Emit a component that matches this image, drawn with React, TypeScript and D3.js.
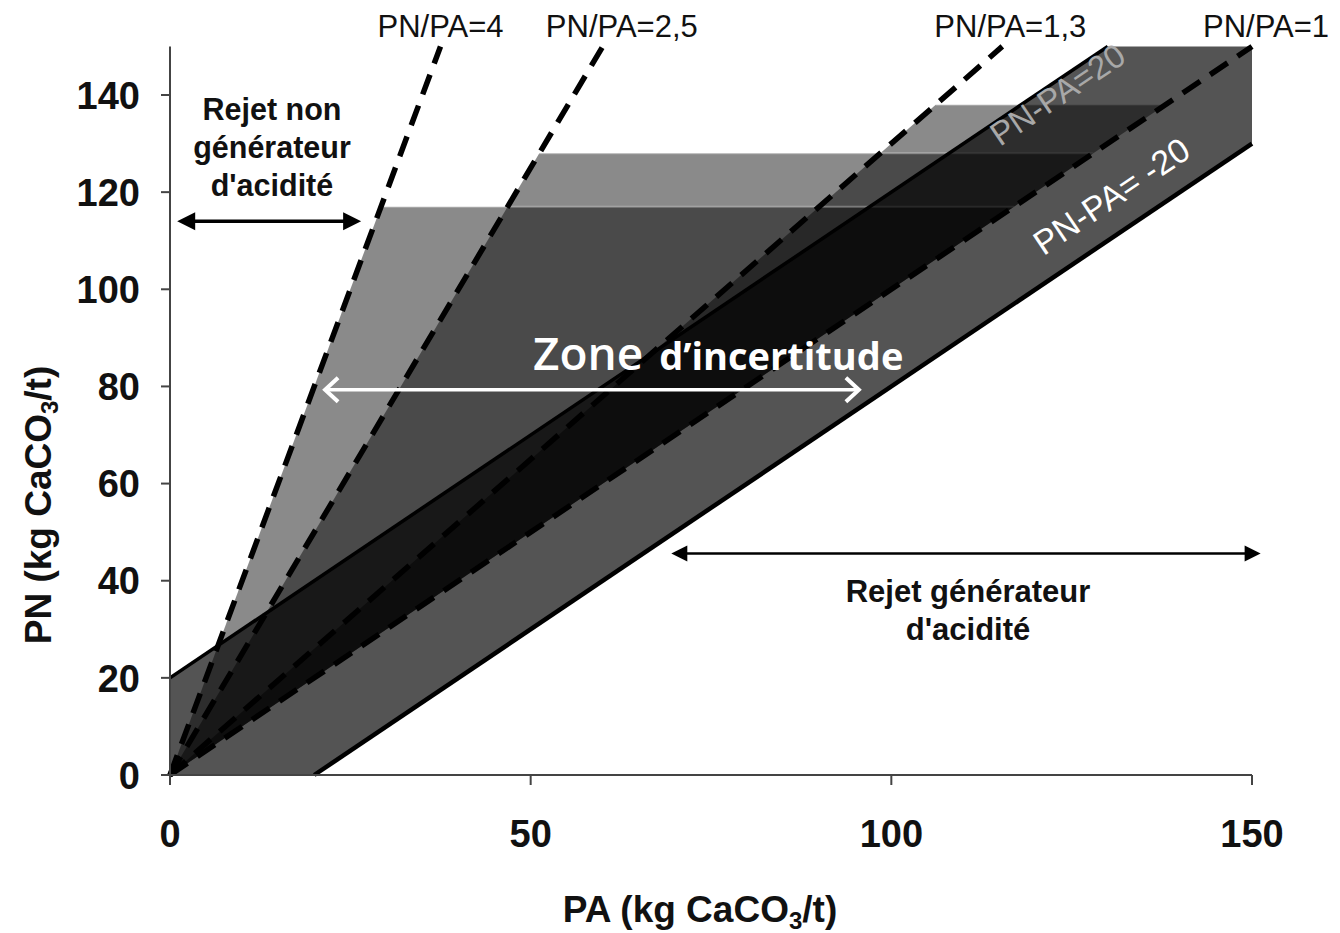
import React from 'react';
import * as d3 from 'd3';

// ---- data ----
const ratioValues = [4, 2.5, 1.3, 1];
const ratioLabels = ['PN/PA=4', 'PN/PA=2,5', 'PN/PA=1,3', 'PN/PA=1'];
const triangleRatios = [4, 2.5, 1.3];
const triangleTopsPN = [117, 128, 138];
const diffValues = [20, -20];
const diffLabels = ['PN-PA=20', 'PN-PA= -20'];
const xTicks = [0, 50, 100, 150];
const yTicks = [0, 20, 40, 60, 80, 100, 120, 140];
const axisMax = 150;

// annotation anchors (data units)
const leftArrow = { x1: 1, x2: 26.5, y: 114 };
const midArrow = { x1: 21.5, x2: 95.5, y: 79.3 };
const rightArrow = { x1: 69.5, x2: 151.2, y: 45.6 };

const W = 1340;
const H = 933;
const FONT = "'Liberation Sans', Arial, sans-serif";
const ZFONT = "'Open Sans', Lato, sans-serif";

export default function App() {
  const x = d3.scaleLinear().domain([0, 150]).range([170, 1252]);
  const y = d3.scaleLinear().domain([0, 140]).range([775, 95]);
  const P = (a: number, b: number): [number, number] => [x(a), y(b)];
  const line = d3.line();

  const trianglePaths = triangleRatios.map((r, i) => {
    const t = triangleTopsPN[i];
    return line([P(0, 0), P(t / r, t), P(t, t)]) + 'Z';
  });

  const hi = diffValues[0];
  const lo = diffValues[1];
  const bandPath =
    line([
      P(0, 0),
      P(0, hi),
      P(axisMax - hi, axisMax),
      P(axisMax, axisMax),
      P(axisMax, axisMax + lo),
      P(-lo, 0),
    ]) + 'Z';

  const angle = (Math.atan2(y(1) - y(0), x(1) - x(0)) * 180) / Math.PI;
  const labelDx = [0, 19, 8, 14];

  const arrowHead = (px: number, py: number, dir: number, size: number, fill: string) => {
    const pts: [number, number][] = [
      [px, py],
      [px - dir * size, py - size * 0.5],
      [px - dir * size, py + size * 0.5],
    ];
    return <path d={line(pts) + 'Z'} fill={fill} />;
  };

  const chevron = (px: number, py: number, dir: number) => {
    const pts: [number, number][] = [
      [px - dir * 13, py - 12],
      [px, py],
      [px - dir * 13, py + 12],
    ];
    return <path d={line(pts)!} fill="none" stroke="#fff" strokeWidth={4} strokeLinejoin="miter" />;
  };

  return (
    <svg width={W} height={H} style={{ position: 'absolute', left: 0, top: 0, background: '#fff' }}>
      {/* triangles */}
      {trianglePaths.map((d, i) => (
        <path key={'t' + i} d={d} fill="#000" fillOpacity={0.46} />
      ))}
      {triangleRatios.map((r, i) => {
        const t = triangleTopsPN[i];
        return (
          <line
            key={'te' + i}
            x1={x(t / r)}
            x2={x(t)}
            y1={y(t)}
            y2={y(t)}
            stroke="#fff"
            strokeOpacity={0.3}
            strokeWidth={2}
          />
        );
      })}
      {/* band */}
      <path d={bandPath} fill="#000" fillOpacity={0.67} />

      {/* ratio dashed lines */}
      {ratioValues.map((r, i) => (
        <line
          key={'r' + i}
          x1={x(0)}
          y1={y(0)}
          x2={x(axisMax / r)}
          y2={y(axisMax)}
          stroke="#000"
          strokeWidth={5.5}
          strokeDasharray="21 12"
        />
      ))}
      {/* diff solid lines */}
      <line x1={x(0)} y1={y(hi)} x2={x(axisMax - hi)} y2={y(axisMax)} stroke="#000" strokeWidth={3.5} />
      <line x1={x(-lo)} y1={y(0)} x2={x(axisMax)} y2={y(axisMax + lo)} stroke="#000" strokeWidth={4.5} />

      {/* axes */}
      <line x1={x(0)} x2={x(0)} y1={y(0)} y2={y(axisMax)} stroke="#444" strokeWidth={2} />
      <line x1={x(0)} x2={x(150)} y1={y(0)} y2={y(0)} stroke="#444" strokeWidth={2} />
      {yTicks.map((t) => (
        <g key={'yt' + t}>
          <line x1={x(0) - 9} x2={x(0)} y1={y(t)} y2={y(t)} stroke="#444" strokeWidth={2} />
          <text
            x={140}
            y={y(t)}
            dy="0.36em"
            textAnchor="end"
            fontFamily={FONT}
            fontWeight="bold"
            fontSize={38}
            fill="#111"
          >
            {t}
          </text>
        </g>
      ))}
      {xTicks.map((t) => (
        <g key={'xt' + t}>
          <line x1={x(t)} x2={x(t)} y1={y(0)} y2={y(0) + 10} stroke="#444" strokeWidth={2} />
          <text
            x={x(t)}
            y={847}
            textAnchor="middle"
            fontFamily={FONT}
            fontWeight="bold"
            fontSize={38}
            fill="#111"
          >
            {t}
          </text>
        </g>
      ))}
      <text x={700} y={922} textAnchor="middle" fontFamily={FONT} fontWeight="bold" fontSize={37} fill="#111">
        PA (kg CaCO<tspan dy={7} fontSize={24}>3</tspan>
        <tspan dy={-7}>/t)</tspan>
      </text>
      <text
        transform="translate(51,505) rotate(-90)"
        textAnchor="middle"
        fontFamily={FONT}
        fontWeight="bold"
        fontSize={37}
        fill="#111"
      >
        PN (kg CaCO<tspan dy={7} fontSize={24}>3</tspan>
        <tspan dy={-7}>/t)</tspan>
      </text>

      {/* ratio labels */}
      {ratioLabels.map((lab, i) => (
        <text
          key={'rl' + i}
          x={x(axisMax / ratioValues[i]) + labelDx[i]}
          y={37}
          textAnchor="middle"
          fontFamily={FONT}
          fontSize={31}
          fill="#111"
        >
          {lab}
        </text>
      ))}

      {/* diff labels */}
      <text
        transform={`translate(1064,104) rotate(${angle})`}
        textAnchor="middle"
        fontFamily={FONT}
        fontSize={33}
        fill="#a8a8a8"
      >
        {diffLabels[0]}
      </text>
      <text
        transform={`translate(1118,206) rotate(${angle})`}
        textAnchor="middle"
        fontFamily={FONT}
        fontSize={34}
        fill="#fff"
      >
        {diffLabels[1]}
      </text>

      {/* left annotation */}
      <g fontFamily={FONT} fontWeight="bold" fontSize={30.5} fill="#111" textAnchor="middle">
        <text x={272} y={120}>Rejet non</text>
        <text x={272} y={158}>générateur</text>
        <text x={272} y={196}>d'acidité</text>
      </g>
      <line x1={x(leftArrow.x1) + 10} x2={x(leftArrow.x2) - 10} y1={y(leftArrow.y)} y2={y(leftArrow.y)} stroke="#000" strokeWidth={3.5} />
      {arrowHead(x(leftArrow.x1), y(leftArrow.y), -1, 18, '#000')}
      {arrowHead(x(leftArrow.x2), y(leftArrow.y), 1, 18, '#000')}

      {/* middle annotation */}
      <text x={533} y={370} fontFamily={ZFONT} fill="#fff">
        <tspan fontSize={46} fontWeight={600}>Zone</tspan>
        <tspan fontSize={38} fontWeight={700} dx={6}> d’incertitude</tspan>
      </text>
      <line x1={x(midArrow.x1)} x2={x(midArrow.x2)} y1={y(midArrow.y)} y2={y(midArrow.y)} stroke="#fff" strokeWidth={3.5} />
      {chevron(x(midArrow.x1), y(midArrow.y), -1)}
      {chevron(x(midArrow.x2), y(midArrow.y), 1)}

      {/* right annotation */}
      <line x1={x(rightArrow.x1) + 10} x2={x(rightArrow.x2) - 10} y1={y(rightArrow.y)} y2={y(rightArrow.y)} stroke="#000" strokeWidth={2.5} />
      {arrowHead(x(rightArrow.x1), y(rightArrow.y), -1, 16, '#000')}
      {arrowHead(x(rightArrow.x2), y(rightArrow.y), 1, 16, '#000')}
      <g fontFamily={FONT} fontWeight="bold" fontSize={31} fill="#111" textAnchor="middle">
        <text x={968} y={602}>Rejet générateur</text>
        <text x={968} y={640}>d'acidité</text>
      </g>
    </svg>
  );
}
